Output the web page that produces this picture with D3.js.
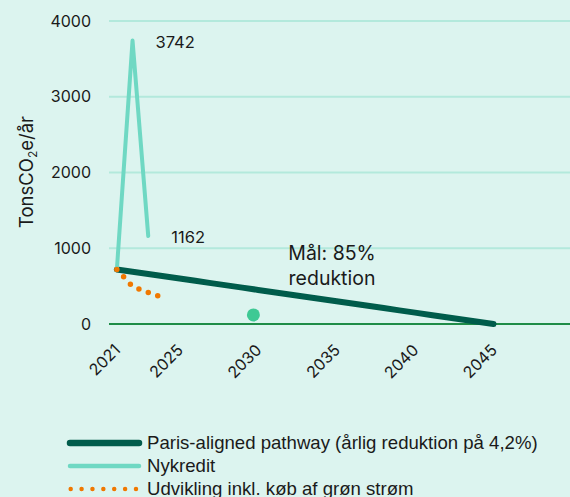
<!DOCTYPE html>
<html><head><meta charset="utf-8">
<script src="https://cdn.jsdelivr.net/npm/d3@7"></script>
<style>
body{margin:0;background:#dcf4ef;}
svg{display:block;}
</style></head><body>
<script>
const years = [2021,2022,2023,2024,2025,2026,2027,2028,2029,2030,2031,2032,2033,2034,2035,2036,2037,2038,2039,2040,2041,2042,2043,2044,2045];
const parisValues = [720,690,660,630,600,570,540,510,480,450,420,390,360,330,300,270,240,210,180,150,120,90,60,30,0];
const nykreditYears = [2021,2022,2023];
const nykreditValues = [715,3742,1162];
const greenYears = [2021,2022,2023,2024];
const greenValues = [720,495,416,345];
const targetPoint = [{year:2029.7, value:120}];
const yTicks = [0,1000,2000,3000,4000];
const xTicks = [2021,2025,2030,2035,2040,2045];
const annotations = [{year:2022, value:3742, text:"3742"},{year:2023, value:1162, text:"1162"}];
const goalLines = ["Mål: 85%","reduktion"];
const legendItems = ["Paris-aligned pathway (årlig reduktion på 4,2%)","Nykredit","Udvikling inkl. køb af grøn strøm"];

const W=570,H=497;
const svg=d3.select("body").append("svg").attr("width",W).attr("height",H);
svg.append("rect").attr("width",W).attr("height",H).attr("fill","#dcf4ef");

const x=d3.scaleLinear().domain([2020.5,2050]).range([109,572]);
const y=d3.scaleLinear().domain([0,4000]).range([324,21]);
const tickFont="Inter, 'Open Sans', sans-serif";

// gridlines
svg.append("g").selectAll("line").data(yTicks.filter(d=>d>0)).join("line")
  .attr("x1",109).attr("x2",W).attr("y1",d=>y(d)).attr("y2",d=>y(d))
  .attr("stroke","#b3e9dc").attr("stroke-width",2);
// zero line
svg.append("line").attr("x1",109).attr("x2",W).attr("y1",y(0)).attr("y2",y(0))
  .attr("stroke","#1f8c48").attr("stroke-width",2);

// y axis labels
const yAxis=d3.axisLeft(y).tickValues(yTicks).tickSize(0).tickPadding(0).tickFormat(d3.format("d"));
const ga=svg.append("g").attr("transform","translate(91,0)").call(yAxis);
ga.select(".domain").remove();
ga.selectAll("text").attr("font-family",tickFont).attr("font-size",16).attr("fill","#1a1a1a");

// x axis labels
const xAxis=d3.axisBottom(x).tickValues(xTicks).tickSize(0).tickFormat(d3.format("d"));
const gx=svg.append("g").attr("transform","translate(0,"+y(0)+")").call(xAxis);
gx.select(".domain").remove();
gx.selectAll("text").attr("font-family",tickFont).attr("font-size",16).attr("fill","#1a1a1a")
  .attr("text-anchor","end").attr("dy",0).attr("y",0)
  .attr("transform","translate(4,27) rotate(-45)");

// y label
svg.append("text").attr("transform","translate(33,172) rotate(-90)")
  .attr("text-anchor","middle").attr("font-family",tickFont).attr("font-size",18.5).attr("fill","#1a1a1a")
  .html('TonsCO<tspan font-size="12" dy="4">2</tspan><tspan dy="-4">e/år</tspan>');

// Paris line
const line=d3.line().x(d=>x(d[0])).y(d=>y(d[1]));
svg.append("path").datum(years.map((d,i)=>[d,parisValues[i]])).attr("d",line)
  .attr("fill","none").attr("stroke","#005c4b").attr("stroke-width",6).attr("stroke-linecap","round");
// Nykredit
svg.append("path").datum(nykreditYears.map((d,i)=>[d,nykreditValues[i]])).attr("d",line)
  .attr("fill","none").attr("stroke","#6fd8c3").attr("stroke-width",4).attr("stroke-linecap","round").attr("stroke-linejoin","round");
// green power dotted
svg.append("path").datum(greenYears.map((d,i)=>[d,greenValues[i]])).attr("d",line)
  .attr("fill","none").attr("stroke","#f07800").attr("stroke-width",5.5).attr("stroke-linecap","round").attr("stroke-dasharray","0,10");
// target point
svg.append("g").selectAll("circle").data(targetPoint).join("circle")
  .attr("cx",d=>x(d.year)).attr("cy",d=>y(d.value)).attr("r",6.5).attr("fill","#3ec994");

// annotations
svg.append("g").selectAll("text").data(annotations).join("text")
  .attr("x",d=>x(d.year)+23).attr("y",d=>y(d.value)+7)
  .attr("font-family",tickFont).attr("font-size",16.5).attr("fill","#1a1a1a").text(d=>d.text);
svg.append("text").attr("text-anchor","middle").attr("font-family",tickFont).attr("font-size",19.5).attr("fill","#1a1a1a")
  .selectAll("tspan").data(goalLines).join("tspan")
  .attr("x",332).attr("y",(d,i)=>260+i*25).text(d=>d);

// legend
const lg=svg.append("g");
const ly=[443,466,489];
lg.append("line").attr("x1",70).attr("x2",139).attr("y1",ly[0]).attr("y2",ly[0]).attr("stroke","#005c4b").attr("stroke-width",6.5).attr("stroke-linecap","round");
lg.append("line").attr("x1",70).attr("x2",139).attr("y1",ly[1]).attr("y2",ly[1]).attr("stroke","#6fd8c3").attr("stroke-width",4.5).attr("stroke-linecap","round");
lg.append("line").attr("x1",70.7).attr("x2",136).attr("y1",ly[2]).attr("y2",ly[2]).attr("stroke","#f07800").attr("stroke-width",4.5).attr("stroke-linecap","round").attr("stroke-dasharray","0,10.88");
lg.selectAll("text").data(legendItems).join("text")
  .attr("x",147).attr("y",(d,i)=>ly[i]+6).attr("font-family","'Liberation Sans', Arial, sans-serif").attr("font-size",18.6).attr("fill","#1a1a1a").text(d=>d);
</script>
</body></html>
